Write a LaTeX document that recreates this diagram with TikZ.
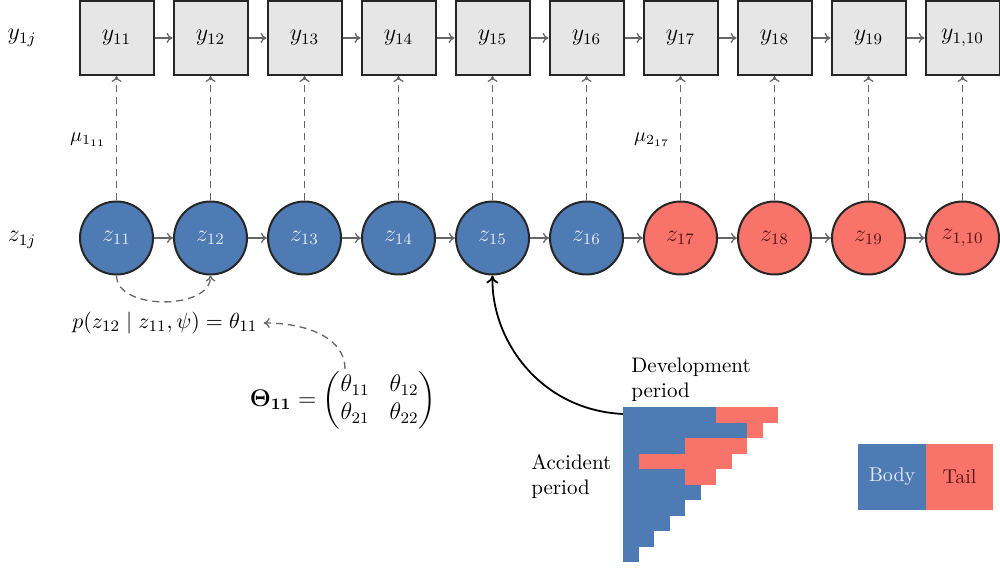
\documentclass[tikz,border=0pt]{standalone}
\usepackage{amsmath}
\usetikzlibrary{arrows.meta}
\definecolor{bodyblue}{HTML}{4F7BB4}
\definecolor{tailred}{HTML}{F8736A}
\definecolor{boxgray}{HTML}{E6E6E6}
\definecolor{bodytext}{HTML}{E2EAF6}
\definecolor{tailtext}{HTML}{5A1414}
\tikzset{
  ybox/.style={draw=black!85, line width=1pt, fill=boxgray, minimum size=37pt, inner sep=0pt, font=\large},
  zbody/.style={circle, draw=black!85, line width=1pt, fill=bodyblue, minimum size=36.5pt, inner sep=0pt, text=bodytext, font=\large},
  ztail/.style={zbody, fill=tailred, text=tailtext},
  harrow/.style={draw=black!60, line width=0.65pt, -{To[length=3pt,width=5pt]}},
  varrow/.style={draw=black!60, line width=0.65pt, dash pattern=on 3.5pt off 2.5pt, -{To[length=3pt,width=5pt]}},
  lbl/.style={inner sep=1pt},
  txt/.style={anchor=west, align=left, inner sep=0pt, font=\fontsize{10.5}{12.5}\selectfont},
}
\begin{document}
\begin{tikzpicture}[x=0.5pt,y=-0.5pt]
\useasboundingbox (0,0) rectangle (1000,571);
% chains
\foreach \i/\s in {1/11,2/12,3/13,4/14,5/15,6/16,7/17,8/18,9/19,10/{1,10}} {
  \node[ybox] (y\i) at ({116.5+94*(\i-1)},38) {$y_{\s}$};
  \ifnum\i<7 \def\zs{zbody}\else\def\zs{ztail}\fi
  \node[\zs] (z\i) at ({116.5+94*(\i-1)},238) {$z_{\s}$};
  \draw[varrow] (z\i) -- (y\i);
}
\foreach \i [count=\j from 2] in {1,...,9} {
  \draw[harrow] (y\i) -- (y\j);
  \draw[harrow] (z\i) -- (z\j);
}
% labels
\node[lbl,font=\large] (ylab) at (22,38) {$y_{1j}$};
\node[lbl,font=\large] (zlab) at (22,240) {$z_{1j}$};
\node[lbl] (mu1) at (88,140) {$\mu_{1_{11}}$};
\node[lbl] (mu2) at (652,140) {$\mu_{2_{17}}$};
\node[lbl,anchor=west,font=\fontsize{10.8}{13}\selectfont] (plab) at (70,323) {$p(z_{12}\mid z_{11},\psi)=\theta_{11}$};
\node[lbl,font=\large] (theta) at (343,400) {$\mathbf{\Theta_{11}}=\begin{pmatrix}\theta_{11}&\theta_{12}\\\theta_{21}&\theta_{22}\end{pmatrix}$};
\draw[varrow] (z1.south) .. controls +(0,35) and +(0,35) .. (z2.south);
\draw[varrow] ([xshift=1pt]theta.north) .. controls +(0,-30) and +(45,0) .. ([xshift=2pt]plab.east);
% triangle
\foreach \r in {0,...,9} {
  \fill[bodyblue] (623,{407+15.5*\r}) rectangle ({623+15.5*(10-\r)},{407+15.5*(\r+1)+(\r<9?0.4:0)});
}
\fill[tailred] (716,407) rectangle (778,422.5);
\fill[tailred] (747,422.5) rectangle (762.5,438);
\fill[tailred] (685,438) rectangle (747,453.5);
\fill[tailred] (638.5,453.5) rectangle (731.5,469);
\fill[tailred] (685,469) rectangle (716,484.5);
\coordinate (tri) at (623,414);
\draw[black, line width=0.9pt, -{To[length=4pt,width=6pt]}] (tri) .. controls (540,410) and (491,340) .. (z5.south);
\node[txt] (dev) at (631,380) {Development\\period};
\node[txt] (acc) at (531,477) {Accident\\period};
% legend
\node[fill=bodyblue, minimum width=34pt, minimum height=33pt, inner sep=0pt, text=bodytext] (body) at (892,477) {Body};
\node[fill=tailred, minimum width=33.5pt, minimum height=33pt, inner sep=0pt, text=tailtext] (tail) at (959.5,477) {Tail};
\end{tikzpicture}
\end{document}
